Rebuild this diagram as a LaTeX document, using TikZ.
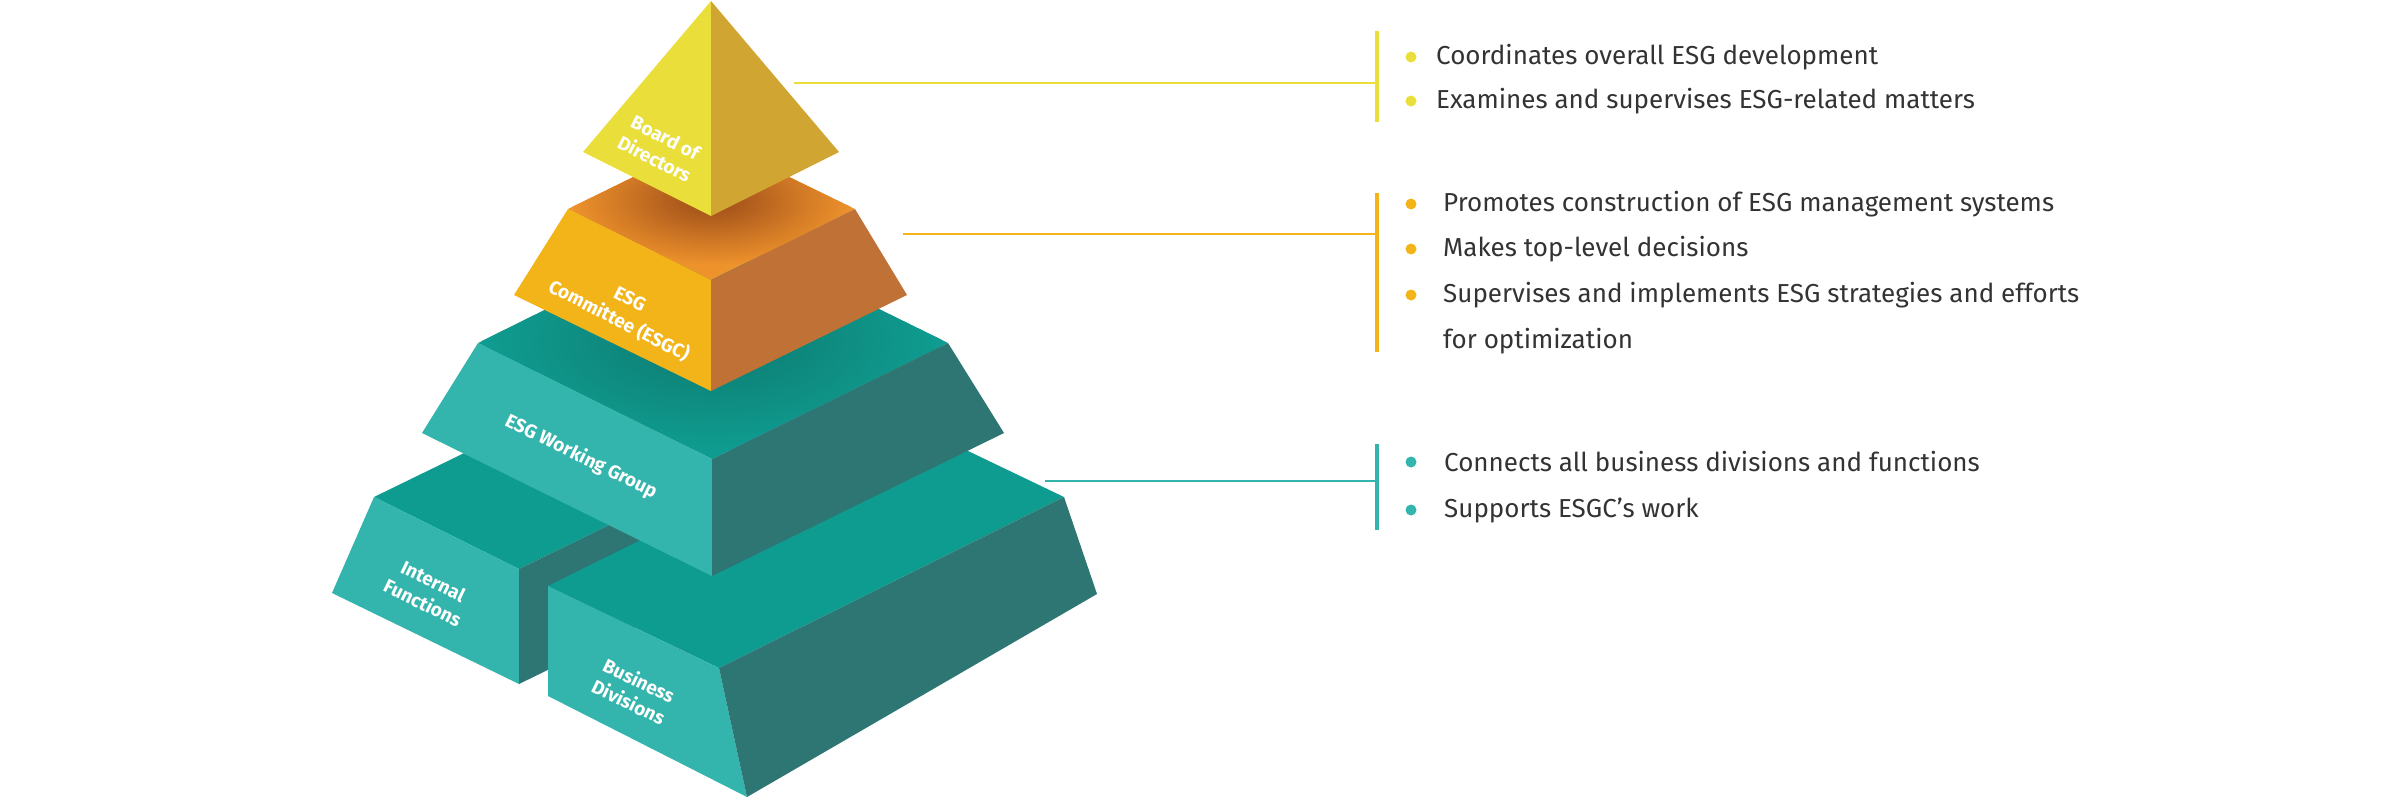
\documentclass[tikz,border=0pt]{standalone}
\usepackage{fontspec}
\setmainfont{Fira Sans}
\definecolor{ylA}{HTML}{EADF3A}\definecolor{ylB}{HTML}{D1A532}
\definecolor{orF}{HTML}{F2B418}\definecolor{orR}{HTML}{C07236}\definecolor{orT}{HTML}{EE922C}\definecolor{orD}{HTML}{9A4A18}
\definecolor{tlF}{HTML}{33B5AD}\definecolor{tlT}{HTML}{0F9C90}\definecolor{tlR}{HTML}{2E7673}\definecolor{tlD}{HTML}{0E7A70}
\definecolor{txt}{HTML}{333333}
\tikzset{lbl/.style={text=white,font=\bfseries\fontsize{19}{24}\selectfont,align=center,inner sep=0pt},
 item/.style={anchor=west,text=txt,font=\fontsize{26}{30}\selectfont,inner sep=0pt},
 dot/.style={circle,inner sep=0pt,minimum size=11pt}}
\begin{document}
\begin{tikzpicture}[x=1pt,y=-1pt]
\useasboundingbox (0,0) rectangle (2400,800);
% Internal Functions
\fill[tlT] (374,497)--(519,569)--(640,510)--(495,438)--cycle;
\fill[tlF] (374,497)--(519,569)--(519,684)--(332,593)--cycle;
\fill[tlR] (519,569)--(640,510)--(640,625)--(519,684)--cycle;
% Business Divisions
\fill[tlT] (548,586)--(719,668)--(1064,497)--(893,415)--cycle;
\fill[tlF] (548,586)--(719,668)--(747,797)--(548,696)--cycle;
\fill[tlR] (719,668)--(1064,497)--(1097,594)--(747,797)--cycle;
% Working group
\begin{scope}
\clip (478,343)--(712,459)--(948,343)--(712,227)--cycle;
\fill[tlT] (400,200) rectangle (1000,500);
\shade[inner color=tlD,outer color=tlT] (712,340) ellipse (230 and 110);
\end{scope}
\fill[tlF] (478,343)--(712,459)--(712,576)--(422,433)--cycle;
\fill[tlR] (712,459)--(948,343)--(1004,433)--(712,576)--cycle;
% ESGC
\begin{scope}
\clip (568,209)--(711,280)--(855,209)--(711,139)--cycle;
\fill[orT] (500,100) rectangle (900,300);
\shade[inner color=orD,outer color=orT] (711,200) ellipse (140 and 65);
\end{scope}
\fill[orF] (568,209)--(711,280)--(711,391)--(514,295)--cycle;
\fill[orR] (711,280)--(855,209)--(907,295)--(711,391)--cycle;
% Board
\fill[ylA] (583,152)--(711,1)--(711,216)--cycle;
\fill[ylB] (711,1)--(839,152)--(711,216)--cycle;
% labels
\node[lbl,rotate=-27] (bod) at (660,148) {Board of\\Directors};
\node[lbl,rotate=-27] (esgc) at (624,311) {ESG\\Committee (ESGC)};
\node[lbl,rotate=-26] (wg) at (581,457) {ESG Working Group};
\node[lbl,rotate=-26] (if) at (428,592) {Internal\\Functions};
\node[lbl,rotate=-26] (bd) at (634,691) {Business\\Divisions};
% connectors
\coordinate (y0) at (794,83); \coordinate (y1) at (1377,83);
\coordinate (o0) at (903,234); \coordinate (o1) at (1377,234);
\coordinate (t0) at (1045,481); \coordinate (t1) at (1377,481);
\coordinate (ya) at (1377,31); \coordinate (yb) at (1377,122);
\coordinate (oa) at (1377,193); \coordinate (ob) at (1377,352);
\coordinate (ta) at (1377,444); \coordinate (tb) at (1377,530);
\draw[ylA,line width=2pt] (y0)--(y1); \draw[ylA,line width=4pt] (ya)--(yb);
\draw[orF,line width=2pt] (o0)--(o1); \draw[orF,line width=4pt] (oa)--(ob);
\draw[tlF,line width=2pt] (t0)--(t1); \draw[tlF,line width=4pt] (ta)--(tb);
% items
\node[dot,fill=ylA] (d1) at (1411,57) {}; \node[item] (i1) at (1436,57) {Coordinates overall ESG development};
\node[dot,fill=ylA] (d2) at (1411,101) {}; \node[item] (i2) at (1436,101) {Examines and supervises ESG-related matters};
\node[dot,fill=orF] (d3) at (1411,204) {}; \node[item] (i3) at (1443,204) {Promotes construction of ESG management systems};
\node[dot,fill=orF] (d4) at (1411,249) {}; \node[item] (i4) at (1443,249) {Makes top-level decisions};
\node[dot,fill=orF] (d5) at (1411,295) {}; \node[item] (i5) at (1443,295) {Supervises and implements ESG strategies and efforts};
\node[item] (i6) at (1443,341) {for optimization};
\node[dot,fill=tlF] (d7) at (1411,462) {}; \node[item] (i7) at (1444,462) {Connects all business divisions and functions};
\node[dot,fill=tlF] (d8) at (1411,510) {}; \node[item] (i8) at (1444,510) {Supports ESGC's work};
\end{tikzpicture}
\end{document}
